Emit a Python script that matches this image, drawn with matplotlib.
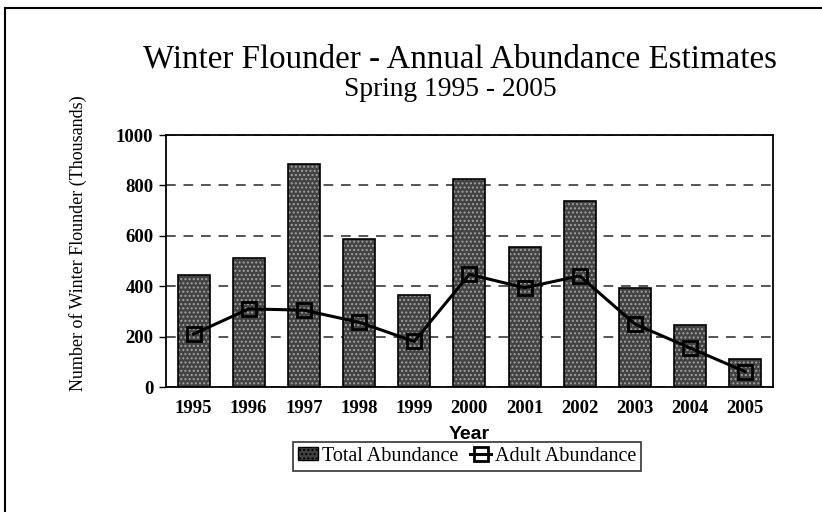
import matplotlib
matplotlib.use("Agg")
import matplotlib.pyplot as plt
from matplotlib.patches import Rectangle
import numpy as np

years = ['1995', '1996', '1997', '1998', '1999', '2000',
         '2001', '2002', '2003', '2004', '2005']
total_abundance = [445, 511, 885, 587, 367, 824, 556, 738, 391, 246, 112]
adult_abundance = [210, 310, 305, 257, 181, 447, 394, 441, 250, 155, 61]

SERIF = 'Liberation Serif'
SANS = 'Liberation Sans'

fig = plt.figure(figsize=(8.22, 5.12), dpi=100)
ax = fig.add_axes([0.2019, 0.2441, 0.7382, 0.4922])

x = np.arange(len(years))

# speckled grey bars: dark fill + light dot hatch, then black outline
ax.bar(x, total_abundance, width=0.58, color='#424242', edgecolor='#a0a0a0',
       linewidth=0, hatch='....', zorder=2)
ax.bar(x, total_abundance, width=0.58, color='none', edgecolor='black',
       linewidth=1.2, zorder=3)
line, = ax.plot(x, adult_abundance, color='black', linewidth=2.2, marker='s',
                markersize=10, markerfacecolor='none', markeredgecolor='black',
                markeredgewidth=2, zorder=4, label='Adult Abundance')
bar_proxy = Rectangle((0, 0), 1, 1, facecolor='#424242', edgecolor='black',
                      hatch='....', linewidth=1, label='Total Abundance')

ax.set_xlim(-0.5, len(years) - 0.5)
ax.set_ylim(0, 1000)
ax.set_yticks([0, 200, 400, 600, 800, 1000])
ax.set_xticks(x)
ax.set_xticklabels(years)
ax.yaxis.grid(True, linestyle=(0, (5, 4)), color='#555555', linewidth=1.4)
ax.set_axisbelow(True)
for sp in ax.spines.values():
    sp.set_linewidth(1.3)
ax.tick_params(axis='x', length=0, pad=9)
ax.tick_params(axis='y', length=5, width=1, pad=4)
for lab in ax.get_xticklabels() + ax.get_yticklabels():
    lab.set_fontfamily(SERIF)
    lab.set_fontweight('bold')
    lab.set_fontsize(13.5)

ax.set_xlabel('Year', fontfamily=SANS, fontweight='bold', fontsize=14, labelpad=7)
ax.set_ylabel('Number of Winter Flounder (Thousands)', fontfamily=SERIF,
              fontsize=13)
ax.yaxis.set_label_coords(-0.13, 0.57)

fig.text(0.56, 0.869, 'Winter Flounder - Annual Abundance Estimates',
         ha='center', va='baseline', fontfamily=SERIF, fontsize=23.8)
fig.text(0.548, 0.8125, 'Spring 1995 - 2005', ha='center', va='baseline',
         fontfamily=SERIF, fontsize=19.8)

leg = fig.legend(handles=[bar_proxy, line], loc='center', bbox_to_anchor=(0.568, 0.109),
                 ncol=2, frameon=True, fancybox=False, edgecolor='black',
                 prop={'family': SERIF, 'size': 14.5}, handlelength=1.0,
                 handleheight=0.6, handletextpad=0.2, columnspacing=0.6,
                 borderpad=0.25, borderaxespad=0)
leg.get_frame().set_linewidth(1.2)

# outer frame of the scanned page (left and top edges visible)
fig.patches.append(Rectangle((5 / 822, -0.1), 1.2, 1 - 8 / 512 + 0.1,
                             transform=fig.transFigure, fill=False,
                             edgecolor='black', linewidth=1.5, clip_on=False))

fig.savefig('out.png', dpi=100)
